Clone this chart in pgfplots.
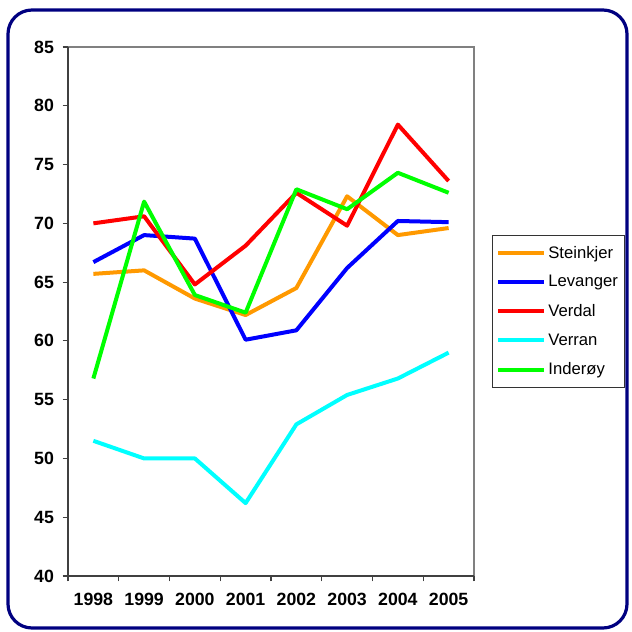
\documentclass[border=0pt]{standalone}
\usepackage{pgfplots}
\pgfplotsset{compat=1.18}
\usepackage{fontspec}
\setmainfont{Liberation Sans}
\definecolor{cOrange}{RGB}{255,153,0}
\definecolor{cBlue}{RGB}{0,0,255}
\definecolor{cRed}{RGB}{255,0,0}
\definecolor{cCyan}{RGB}{0,255,255}
\definecolor{cGreen}{RGB}{0,255,0}
\definecolor{cNavy}{RGB}{0,0,128}
\begin{document}
\begin{tikzpicture}
\useasboundingbox (-51pt,-42pt) rectangle (423pt,432pt);
\draw[cNavy, line width=2.4pt, rounded corners=18pt] (-45pt,-39pt) rectangle (419.25pt,424.5pt);
\begin{axis}[
  at={(0,0)}, anchor=south west,
  scale only axis, width=304.5pt, height=396.75pt,
  xmin=0, xmax=8, ymin=40, ymax=85,
  axis line style={draw=none},
  xtick={0.5,1.5,...,7.5},
  xticklabels={1998,1999,2000,2001,2002,2003,2004,2005},
  minor xtick={0,1,...,8},
  ytick={40,45,...,85},
  xtick pos=lower, ytick pos=left,
  tick align=outside,
  major x tick style={draw=none},
  minor tick length=4pt,
  major tick length=4pt,
  tick style={black!75, line width=0.8pt},
  every tick label/.append style={font=\fontsize{13.3}{15}\selectfont\bfseries},
  /pgf/number format/assume math mode=true,
  xticklabel style={yshift=-5pt},
  yticklabel style={xshift=-3pt},
  clip=false,
  legend style={at={(1.0443,0.6446)}, anchor=north west, draw=black!80, line width=0.6pt,
    font=\fontsize{12.5}{14}\selectfont, row sep=7.5pt, inner xsep=3pt, inner ysep=6pt,
    cells={anchor=west}},
  legend image code/.code={\draw[#1, line width=3pt] (0pt,0pt) -- (34pt,0pt);},
  every axis plot/.append style={line width=3pt, line join=round},
]
\draw[gray, line width=0.8pt] (axis cs:0,85) -- (axis cs:8,85) -- (axis cs:8,40);
\draw[black!75, line width=0.8pt] (axis cs:0,85) -- (axis cs:0,40) -- (axis cs:8,40);
\addplot[cOrange] coordinates {(0.5,65.7) (1.5,66.0) (2.5,63.6) (3.5,62.2) (4.5,64.5) (5.5,72.3) (6.5,69.0) (7.5,69.6)};
\addlegendentry{Steinkjer}
\addplot[cBlue] coordinates {(0.5,66.7) (1.5,69.0) (2.5,68.7) (3.5,60.1) (4.5,60.9) (5.5,66.2) (6.5,70.2) (7.5,70.1)};
\addlegendentry{Levanger}
\addplot[cRed] coordinates {(0.5,70.0) (1.5,70.6) (2.5,64.8) (3.5,68.1) (4.5,72.6) (5.5,69.8) (6.5,78.4) (7.5,73.6)};
\addlegendentry{Verdal}
\addplot[cCyan] coordinates {(0.5,51.5) (1.5,50.0) (2.5,50.0) (3.5,46.2) (4.5,52.9) (5.5,55.4) (6.5,56.8) (7.5,59.0)};
\addlegendentry{Verran}
\addplot[cGreen] coordinates {(0.5,56.8) (1.5,71.85) (2.5,63.9) (3.5,62.4) (4.5,72.9) (5.5,71.2) (6.5,74.3) (7.5,72.6)};
\addlegendentry{Inderøy}
\end{axis}
\end{tikzpicture}
\end{document}
